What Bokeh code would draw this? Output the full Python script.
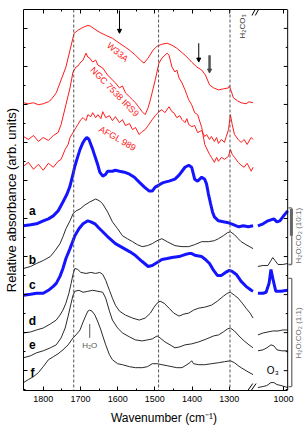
import math
from bokeh.plotting import figure
from bokeh.models import Range1d, FixedTicker, LinearAxis, Span, Label, Arrow, NormalHead
from bokeh.embed import file_html
from bokeh.resources import INLINE

# ---------------- data (wavenumber in cm-1, relative absorbance in arb. units, offsets included) ---------------
# display offset used for the broken-axis segment (1070-990 cm-1)
BREAK_SHIFT = 154

w33a_wn = [1853,1840,1826,1813,1800,1786,1779,1765,1752,1739,1728,1717,1707,1693,1680,1672,1661,1648,1632,1614,
           1595,1579,1568,1552,1539,1529,1518,1505,1494,1481,1467,1454,1441,1419,1401,1387,1374,1364,1353,1342,
           1329,1316,1302,1300,1294,1289,1278,1268,1255,1247,1236]
w33a_abs = [289,288,289,287,288,290,292,299,312,325,342,359,362,365,367,366,363,360,357,354,
            349,345,342,337,332,329,334,342,346,348,349,347,344,337,330,325,322,317,307,304,
            302,303,304,306,300,294,291,289,288,290,289]

ngc_wn = [1853,1840,1826,1813,1800,1786,1773,1760,1752,1739,1728,1720,1712,1707,1699,1693,1685,1680,1675,1667,
          1659,1653,1640,1627,1614,1606,1595,1587,1579,1568,1560,1552,1542,1534,1526,1518,1512,1499,1489,1481,
          1467,1462,1454,1446,1441,1435,1427,1419,1414,1409,1401,1393,1385,1374,1366,1353,1348,1340,1334,1329,
          1321,1313,1302,1297,1292,1286,1276,1268,1260,1252,1241,1236]
ngc_abs = [255,252,256,250,254,251,256,259,267,287,304,320,325,326,330,332,339,335,334,330,
           332,327,324,317,312,309,304,306,299,295,292,289,284,280,277,284,292,312,329,334,
           339,337,325,320,322,314,309,302,297,292,287,279,277,264,247,237,234,229,234,230,
           234,232,235,242,237,234,229,226,224,228,220,224]

afgl_wn = [1853,1840,1826,1813,1800,1786,1773,1760,1752,1741,1733,1728,1720,1712,1707,1699,1693,1685,1680,1672,
           1667,1659,1653,1645,1640,1632,1622,1614,1606,1595,1587,1579,1568,1560,1552,1542,1534,1526,1518,1507,
           1499,1489,1481,1473,1462,1454,1449,1441,1433,1427,1419,1414,1409,1401,1393,1385,1374,1366,1361,1353,
           1348,1340,1334,1329,1321,1313,1308,1302,1297,1292,1286,1276,1268,1260,1252,1241,1236]
afgl_abs = [225,229,222,227,221,228,224,230,232,242,247,254,259,264,267,272,274,271,277,275,
            279,274,277,273,280,274,276,271,275,269,272,266,268,262,264,257,260,262,266,272,
            276,280,282,279,285,280,279,274,276,272,269,273,267,265,266,259,261,255,257,252,
            255,250,254,248,252,249,255,262,277,267,257,252,249,252,247,254,252]

a_wn = [1853,1834,1818,1800,1786,1773,1760,1747,1736,1728,1720,1715,1707,1701,1693,1688,1683,1677,1672,1667,
        1661,1653,1648,1640,1632,1627,1614,1606,1595,1582,1568,1555,1542,1528,1515,1507,1499,1489,1481,1473,
        1462,1454,1446,1435,1427,1419,1409,1401,1393,1385,1374,1366,1361,1356,1350,1345,1340,1329,1316,1302,
        1294,1281,1274,1262,1249,1236]
a_abs = [165,166,167,170,172,175,180,189,197,205,217,225,235,242,249,252,254,252,247,242,
         235,226,219,215,217,220,220,221,220,219,217,214,209,204,200,200,204,206,208,209,
         210,211,212,216,220,224,226,224,212,210,214,212,207,197,187,179,174,170,169,168,
         167,165,164,165,164,165]
a_wn_r = [1069,1055,1042,1026,1018,1010,1000,989]
a_abs_r = [165,167,170,172,169,170,175,180]

b_wn = [1853,1834,1818,1800,1781,1768,1755,1747,1739,1728,1720,1712,1701,1688,1675,1659,1648,1640,1627,1614,
        1600,1587,1574,1560,1547,1534,1520,1507,1494,1481,1467,1446,1427,1409,1393,1374,1356,1340,1329,1316,
        1305,1297,1286,1276,1268,1255,1236]
b_abs = [122,124,127,130,134,140,147,154,162,170,177,180,182,186,189,192,190,187,179,169,
         162,155,152,149,146,144,145,147,150,152,149,145,144,144,146,149,149,150,152,155,
         158,159,156,152,149,146,142]
b_wn_r = [1069,1055,1042,1034,1029,1023,1015,1002,989]
b_abs_r = [124,125,125,130,133,130,126,126,127]

c_wn = [1853,1834,1818,1800,1786,1773,1765,1755,1747,1739,1728,1720,1715,1704,1693,1680,1672,1661,1651,1640,
        1624,1606,1587,1568,1552,1534,1518,1507,1494,1481,1467,1454,1435,1419,1409,1401,1390,1374,1364,1353,
        1342,1332,1321,1310,1300,1292,1281,1268,1255,1241,1236]
c_abs = [95,96,97,97,100,104,107,114,122,132,142,150,155,162,167,170,169,167,163,159,
         153,147,143,139,135,129,124,125,128,131,132,133,134,136,137,137,135,134,131,127,
         120,115,115,118,120,119,116,109,104,100,99]
c_wn_r = [1069,1055,1047,1039,1034,1029,1021,1007,989]
c_abs_r = [97,97,98,107,121,112,99,99,100]

d_wn = [1853,1834,1818,1800,1781,1765,1755,1747,1739,1731,1725,1720,1715,1707,1699,1685,1672,1659,1648,1640,
        1632,1622,1614,1606,1595,1579,1560,1542,1526,1512,1502,1494,1486,1475,1462,1449,1435,1422,1409,1396,
        1382,1366,1348,1332,1316,1305,1297,1286,1276,1265,1255,1244,1236]
d_abs = [57,58,60,62,66,70,75,80,87,97,107,116,122,121,118,117,118,117,118,116,
         110,100,92,85,79,75,72,70,72,77,83,87,89,87,82,77,74,76,77,80,
         82,83,85,89,94,97,98,95,92,87,82,77,72]
d_wn_r = [1069,1055,1042,1029,1015,1002,989]
d_abs_r = [55,57,58,59,59,60,60]

e_wn = [1853,1834,1818,1800,1781,1765,1752,1741,1733,1725,1720,1715,1704,1693,1680,1667,1653,1640,1632,1622,
        1614,1600,1587,1568,1552,1534,1520,1507,1494,1486,1473,1459,1446,1433,1419,1401,1382,1361,1342,1329,
        1316,1305,1297,1286,1274,1260,1247,1236]
e_abs = [32,34,37,39,42,45,52,62,74,87,95,99,100,98,99,100,99,98,92,79,
         70,62,57,53,50,49,50,51,54,52,48,45,42,43,45,46,48,51,54,55,
         58,61,62,59,54,49,45,42]
e_wn_r = [1069,1055,1045,1034,1026,1018,1005,989]
e_abs_r = [39,40,42,45,44,40,39,39]

f_wn = [1853,1840,1826,1813,1800,1786,1773,1760,1747,1733,1720,1712,1701,1693,1685,1680,1675,1669,1661,1653,
        1645,1640,1632,1622,1614,1600,1587,1568,1552,1534,1520,1507,1494,1481,1467,1454,1441,1427,1414,1406,
        1401,1396,1382,1366,1348,1329,1313,1297,1286,1276,1268,1255,1236]
f_abs = [7,10,13,17,23,30,33,36,40,45,52,55,60,68,75,79,80,79,75,68,
         60,54,45,35,30,26,25,23,22,22,23,26,26,25,24,23,22,22,25,27,
         29,26,25,25,26,27,28,29,27,24,22,19,15]
f_wn_r = [1069,1055,1045,1034,1026,1018,1007,989]
f_abs_r = [2,3,4,7,7,5,4,2]

x_tick_values = [1800, 1700, 1600, 1500, 1400, 1300, 1000]
x_minor_values = [1750, 1650, 1550, 1450, 1350]
marker_lines = [1718, 1490, 1298]

# ---------------- styling ----------------
RED = "#ff1a1a"
BLUE = "#1414ff"
BLACK = "#2a2a2a"
GRAY = "#6e6e6e"
FONT = "Liberation Sans"

X_LEFT, X_RIGHT = 1853, 1143          # plotted window of the axes box
X_CANVAS_RIGHT = 1097.8               # room to the right of the box for the mixture brackets
Y_LOW, Y_HIGH = -1, 383


def disp(w):
    """Display coordinate for the broken axis."""
    return w + BREAK_SHIFT if w <= 1100 else w


p = figure(width=304, height=427, x_range=Range1d(X_LEFT, X_CANVAS_RIGHT), y_range=Range1d(Y_LOW, Y_HIGH),
           output_backend="svg", toolbar_location=None,
           min_border_left=20, min_border_right=0, min_border_top=9, min_border_bottom=34)
p.grid.visible = False
p.outline_line_color = None
p.background_fill_color = "white"
p.border_fill_color = "white"

x_major = [disp(v) for v in x_tick_values]
xt = FixedTicker(ticks=x_major, minor_ticks=x_minor_values)
yt_major = [19 + 38.33 * k for k in range(10)]
yt_minor = [v + 19.17 for v in yt_major[:-1]] + [0.0]
yt = FixedTicker(ticks=yt_major, minor_ticks=yt_minor)


def style_axis(ax, labels, ticks):
    ax.major_tick_in = 4
    ax.major_tick_out = 0
    ax.minor_tick_in = 2
    ax.minor_tick_out = 0
    ax.axis_line_color = "black"
    ax.major_tick_line_color = "black"
    ax.minor_tick_line_color = "black"
    ax.axis_label_text_font = FONT
    ax.axis_label_text_font_style = "normal"
    ax.axis_label_text_color = "black"
    if labels:
        ax.major_label_text_font_size = "9px"
        ax.major_label_text_font = FONT
        ax.major_label_standoff = 5
        ax.major_label_text_color = "black"
    else:
        ax.major_label_overrides = {t: "" for t in ticks}
        ax.major_label_text_font_size = "1px"
        ax.major_label_standoff = 0


p.xaxis.ticker = xt
p.xaxis.bounds = (X_RIGHT, X_LEFT)
style_axis(p.xaxis[0], True, x_major)
p.xaxis.major_label_overrides = {disp(1000): "1000"}
p.xaxis.axis_label = "Wavenumber (cm\u207b\u00b9)"
p.xaxis.axis_label_text_font_size = "12px"
p.xaxis.axis_label_standoff = 6
p.yaxis.ticker = yt
style_axis(p.yaxis[0], False, yt_major)
p.yaxis.axis_label = "Relative absorbance (arb. units)"
p.yaxis.axis_label_text_font_size = "13px"
p.yaxis.axis_label_standoff = 5

top = LinearAxis(ticker=xt, bounds=(X_RIGHT, X_LEFT))
style_axis(top, False, x_major)
p.add_layout(top, "above")

# right-hand side of the box (mirror of the left axis)
p.add_layout(Span(location=X_RIGHT, dimension="height", line_color="black", line_width=1))
p.segment(x0=[X_RIGHT] * len(yt_major), x1=[X_RIGHT + 10.6] * len(yt_major), y0=yt_major, y1=yt_major,
          line_color="black", line_width=1)
p.segment(x0=[X_RIGHT] * len(yt_minor), x1=[X_RIGHT + 5.3] * len(yt_minor), y0=yt_minor, y1=yt_minor,
          line_color="black", line_width=1)

for loc in marker_lines:
    p.add_layout(Span(location=loc, dimension="height", line_color="#555555",
                      line_dash="3 2", line_width=1))

# spectra
p.line(w33a_wn, w33a_abs, line_color=RED, line_width=1)
p.line(ngc_wn, ngc_abs, line_color=RED, line_width=1)
p.line(afgl_wn, afgl_abs, line_color=RED, line_width=1)
p.line(a_wn, a_abs, line_color=BLUE, line_width=3)
p.line([disp(w) for w in a_wn_r], a_abs_r, line_color=BLUE, line_width=3)
p.line(b_wn, b_abs, line_color=BLACK, line_width=1)
p.line([disp(w) for w in b_wn_r], b_abs_r, line_color=BLACK, line_width=1)
p.line(c_wn, c_abs, line_color=BLUE, line_width=3)
p.line([disp(w) for w in c_wn_r], c_abs_r, line_color=BLUE, line_width=3)
for wn, ab, wr, ar in [(d_wn, d_abs, d_wn_r, d_abs_r), (e_wn, e_abs, e_wn_r, e_abs_r),
                       (f_wn, f_abs, f_wn_r, f_abs_r)]:
    p.line(wn, ab, line_color=BLACK, line_width=1)
    p.line([disp(w) for w in wr], ar, line_color=BLACK, line_width=1)


def lab(x, y, text, size, color="black", angle=0.0, bold=False, align="center"):
    p.add_layout(Label(x=x, y=y, text=text, text_font=FONT, text_font_size=size,
                       text_color=color, angle=angle, text_align=align,
                       text_baseline="middle", text_font_style="bold" if bold else "normal"))


# source labels
lab(1600, 340, "W33A", "9px", RED, angle=-0.70)
lab(1608, 300, "NGC 7538 IRS9", "9px", RED, angle=-0.80)
lab(1600, 253, "AFGL 989", "9px", RED, angle=-0.52)

# curve letters
for t, yy in [("a", 180), ("b", 131), ("c", 105), ("d", 69), ("e", 45), ("f", 17)]:
    lab(1829, yy, t, "12px", "black", bold=True)

# annotations
lab(1265, 366, "H\u2082CO\u2083", "8px", "#333333", angle=math.pi / 2)
lab(1675, 44, "H\u2082O", "8px", "#555555")
lab(1183, 19, "O\u2083", "10px", "black")
p.segment(x0=[1675], x1=[1675], y0=[66], y1=[52], line_color="#555555", line_width=1)

# feature arrows
p.add_layout(Arrow(end=NormalHead(size=4, fill_color="black", line_color="black"),
                   x_start=1595, y_start=382, x_end=1595, y_end=359, line_width=1))
p.add_layout(Arrow(end=NormalHead(size=4, fill_color="black", line_color="black"),
                   x_start=1382, y_start=349, x_end=1382, y_end=330, line_width=1))
p.add_layout(Arrow(end=NormalHead(size=4, fill_color="#444444", line_color="#444444"),
                   x_start=1353, y_start=337, x_end=1353, y_end=319, line_width=2.5,
                   line_color="#555555"))

# axis-break marks
p.segment(x0=[1239, 1230, 1250, 1241], y0=[377, 377, -1, -1],
          x1=[1226, 1217, 1237, 1228], y1=[386, 386, 6, 6], line_color="black", line_width=1)

# mixture brackets to the right of the box
BX, BX_END, TX = 1132, 1141, 1114
for y0, y1, ytxt, txt in [(183, 126, 155, "H\u2082O:CO\u2082 (10:1)"),
                          (112, 3, 57, "H\u2082O:CO\u2082 (1:1)")]:
    p.segment(x0=[BX, BX_END, BX_END], y0=[y0, y0, y1], x1=[BX, BX, BX], y1=[y1, y0, y1],
              line_color=GRAY, line_width=1.3)
    lab(TX, ytxt, txt, "8px", GRAY, angle=math.pi / 2)
p.segment(x0=[BX + 1], y0=[182], x1=[BX + 1], y1=[155], line_color="#666666", line_width=3)

open("out.html", "w").write(file_html(p, INLINE))
